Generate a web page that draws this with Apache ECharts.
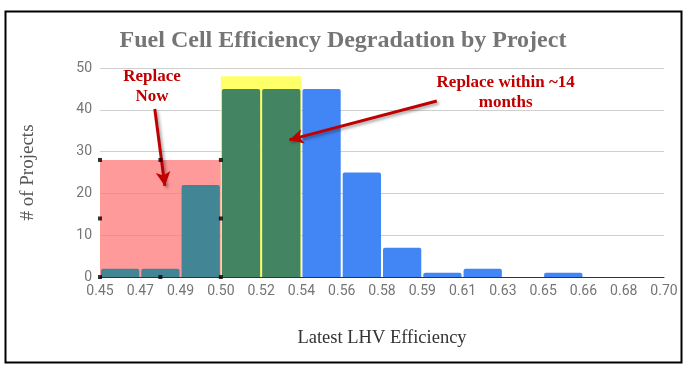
<!DOCTYPE html>
<html><head><meta charset="utf-8">
<script src="https://cdn.jsdelivr.net/npm/echarts@6/dist/echarts.min.js"></script>
<style>html,body{margin:0;padding:0;background:#fff}#c{width:686px;height:366px}</style>
</head><body><div id="c"></div>
<script>
const titleText = 'Fuel Cell Efficiency Degradation by Project';
const xAxisName = 'Latest LHV Efficiency';
const yAxisName = '# of Projects';
const edgeLabels = ['0.45','0.47','0.49','0.50','0.52','0.54','0.56','0.58','0.59','0.61','0.63','0.65','0.66','0.68','0.70'];
const binCounts = [2, 2, 22, 45, 45, 45, 25, 7, 1, 2, 0, 1, 0, 0];
const binColors = ['#428696','#428696','#428696','#438563','#438563','#4285F4','#4285F4','#4285F4','#4285F4','#4285F4','#4285F4','#4285F4','#4285F4','#4285F4'];
// overlay boxes: [xStartBin, xEndBin, height]
const replaceNowBox = [0, 3, 28];
const replaceSoonBox = [3, 5, 48];
const replaceNowText = 'Replace\nNow';
const replaceSoonText = 'Replace within ~14\nmonths';
const replaceNowTextPos = [1.29, 45.6];
const replaceSoonTextPos = [10.07, 44];
const replaceNowArrow = [[1.36, 40.2], [1.61, 21.8]];
const replaceSoonArrow = [[8.36, 42.1], [4.7, 32.8]];

const handles = [];
[replaceNowBox[0], (replaceNowBox[0]+replaceNowBox[1])/2, replaceNowBox[1]].forEach(x => {
  [0, replaceNowBox[2]/2, replaceNowBox[2]].forEach(y => {
    if (!(x === (replaceNowBox[0]+replaceNowBox[1])/2 && y === replaceNowBox[2]/2)) handles.push([x, y]);
  });
});

const chart = echarts.init(document.getElementById('c'));
const red = '#C00000';
chart.setOption({
  animation: false,
  backgroundColor: '#fff',
  title: {
    text: titleText, left: 'center', top: 24,
    textStyle: {fontFamily: 'Liberation Serif', fontSize: 24, fontWeight: 'bold', color: '#757575'}
  },
  grid: {left: 100, right: 22, top: 68, bottom: 89},
  xAxis: {
    type: 'value', min: 0, max: 14, interval: 1,
    name: xAxisName, nameLocation: 'middle', nameGap: 52,
    nameTextStyle: {fontFamily: 'Liberation Serif', fontSize: 18.5, color: '#333'},
    axisLine: {show: true, lineStyle: {color: '#333', width: 1}},
    axisTick: {show: false},
    splitLine: {show: false},
    axisLabel: {formatter: v => edgeLabels[v], color: '#757575', fontFamily: 'Roboto', fontSize: 14, margin: 7}
  },
  yAxis: {
    type: 'value', min: 0, max: 50, interval: 10,
    name: yAxisName, nameLocation: 'middle', nameGap: 62,
    nameTextStyle: {fontFamily: 'Liberation Serif', fontSize: 19, color: '#555'},
    axisLine: {show: false}, axisTick: {show: false},
    splitLine: {lineStyle: {color: '#cfcfcf'}},
    axisLabel: {color: '#757575', fontFamily: 'Roboto', fontSize: 14, margin: 8}
  },
  graphic: [{
    type: 'rect', left: 3, top: 9, z: 100,
    shape: {width: 676, height: 351},
    style: {fill: null, stroke: '#000', lineWidth: 2}
  }],
  series: [
    {
      type: 'custom', z: 1,
      data: [[replaceNowBox[0], replaceNowBox[1], replaceNowBox[2], 0], [replaceSoonBox[0], replaceSoonBox[1], replaceSoonBox[2], 1]],
      renderItem: (params, api) => {
        const p0 = api.coord([api.value(0), api.value(2)]);
        const p1 = api.coord([api.value(1), 0]);
        return {type: 'rect', shape: {x: p0[0], y: p0[1], width: p1[0]-p0[0], height: p1[1]-p0[1]},
          style: {fill: api.value(3) === 0 ? 'rgba(255,120,120,0.75)' : 'rgba(255,255,70,0.82)'}};
      }
    },
    {
      type: 'custom', z: 2,
      data: binCounts.map((v, i) => [i, v]),
      renderItem: (params, api) => {
        const i = api.value(0), v = api.value(1);
        if (!v) return null;
        const p0 = api.coord([i, v]);
        const p1 = api.coord([i + 1, 0]);
        return {type: 'rect', shape: {x: p0[0] + 1, y: p0[1], width: p1[0] - p0[0] - 2, height: p1[1] - p0[1], r: [2, 2, 0, 0]},
          style: {fill: binColors[i]}};
      }
    },
    {
      type: 'scatter', z: 5, symbol: 'rect', symbolSize: 4,
      itemStyle: {color: '#000'}, data: handles, silent: true
    },
    {
      type: 'scatter', z: 6, data: [], silent: true,
      markLine: {
        silent: true, symbol: ['none', 'arrow'], symbolSize: [11, 14],
        lineStyle: {color: red, width: 3, type: 'solid', shadowColor: 'rgba(0,0,0,0.35)', shadowBlur: 3, shadowOffsetX: 2, shadowOffsetY: 2},
        label: {show: false},
        data: [
          [{coord: replaceNowArrow[0]}, {coord: replaceNowArrow[1]}],
          [{coord: replaceSoonArrow[0]}, {coord: replaceSoonArrow[1]}]
        ]
      },
      markPoint: {
        silent: true, symbolSize: 0,
        label: {show: true, color: red, fontFamily: 'Liberation Serif', fontWeight: 'bold', fontSize: 17, lineHeight: 20, align: 'center', verticalAlign: 'middle', position: 'inside'},
        data: [
          {coord: replaceNowTextPos, label: {formatter: replaceNowText}},
          {coord: replaceSoonTextPos, label: {formatter: replaceSoonText}}
        ]
      }
    }
  ]
});
</script></body></html>
